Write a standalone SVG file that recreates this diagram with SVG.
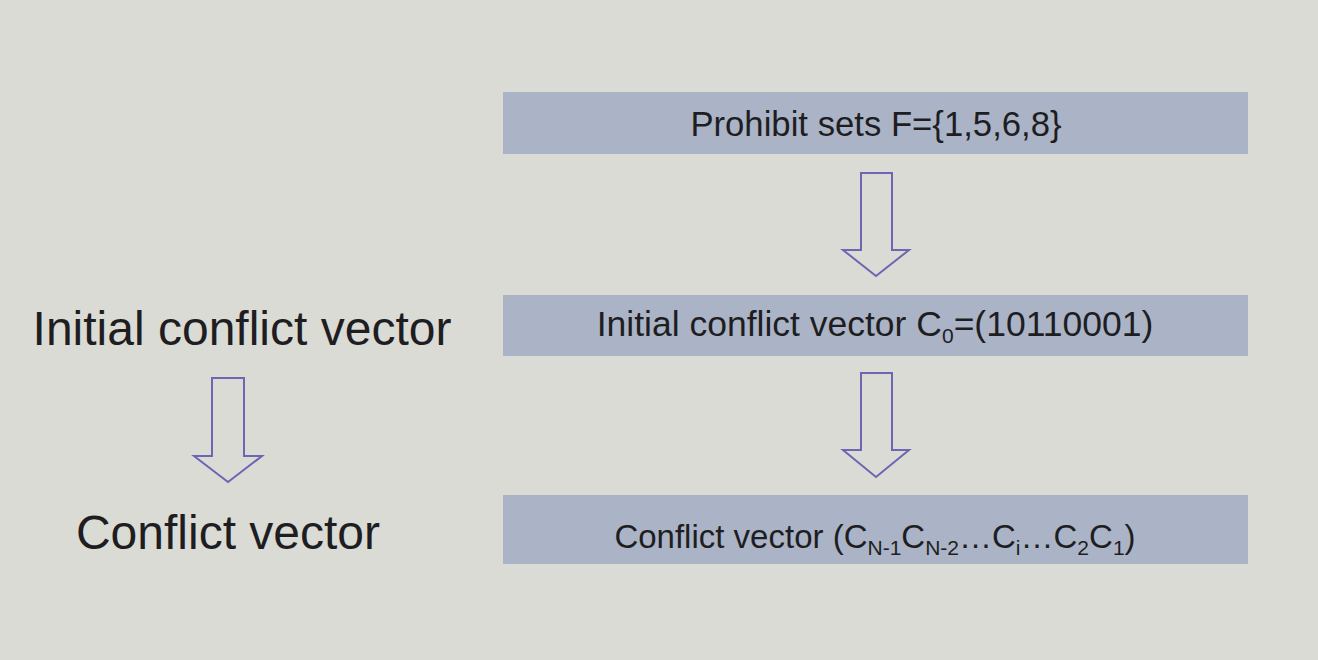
<svg xmlns="http://www.w3.org/2000/svg" width="1318" height="660" viewBox="0 0 1318 660">
  <style>
    .box { fill: #aab4c6; }
    .btxt { font-family: "Liberation Sans", Arial, sans-serif; font-size: 34px; fill: #1e1e22; text-anchor: middle; }
    .ltxt { font-family: "Liberation Sans", Arial, sans-serif; font-size: 48px; fill: #1e1e22; text-anchor: middle; }
    .arrow { fill: none; stroke: #6c66b4; stroke-width: 2; stroke-linejoin: miter; }
    .sub { font-size: 21px; }
  </style>
  <rect x="0" y="0" width="1318" height="660" fill="#dbdbd5"/>

  <g id="node-prohibit">
    <rect class="box" x="503" y="92" width="745" height="62"/>
    <text class="btxt" x="876" y="136" style="font-size:34.7px">Prohibit sets F={1,5,6,8}</text>
  </g>

  <g id="node-initial">
    <rect class="box" x="503" y="295" width="745" height="61"/>
    <text class="btxt" x="875" y="336" style="font-size:35.5px">Initial conflict vector C<tspan class="sub" dy="7">0</tspan><tspan dy="-7">=(10110001)</tspan></text>
  </g>

  <g id="node-conflict">
    <rect class="box" x="503" y="495" width="745" height="69"/>
    <text class="btxt" x="875" y="548" style="font-size:33px">Conflict vector (C<tspan class="sub" dy="7">N-1</tspan><tspan dy="-7">C</tspan><tspan class="sub" dy="7">N-2</tspan><tspan dy="-7">…C</tspan><tspan class="sub" dy="7">i</tspan><tspan dy="-7">…C</tspan><tspan class="sub" dy="7">2</tspan><tspan dy="-7">C</tspan><tspan class="sub" dy="7">1</tspan><tspan dy="-7">)</tspan></text>
  </g>

  <g id="label-initial">
    <text class="ltxt" x="242" y="345">Initial conflict vector</text>
  </g>

  <g id="label-conflict">
    <text class="ltxt" x="228" y="549">Conflict vector</text>
  </g>

  <g id="connectors">
    <path class="arrow" d="M861,173 H892 V250 H909 L876,276 L843,250 H861 Z"/>
    <path class="arrow" d="M861,373 H892 V450 H909 L876,477 L843,450 H861 Z"/>
    <path class="arrow" d="M212,378 H244 V456 H262 L228,482 L194,456 H212 Z"/>
  </g>
</svg>
